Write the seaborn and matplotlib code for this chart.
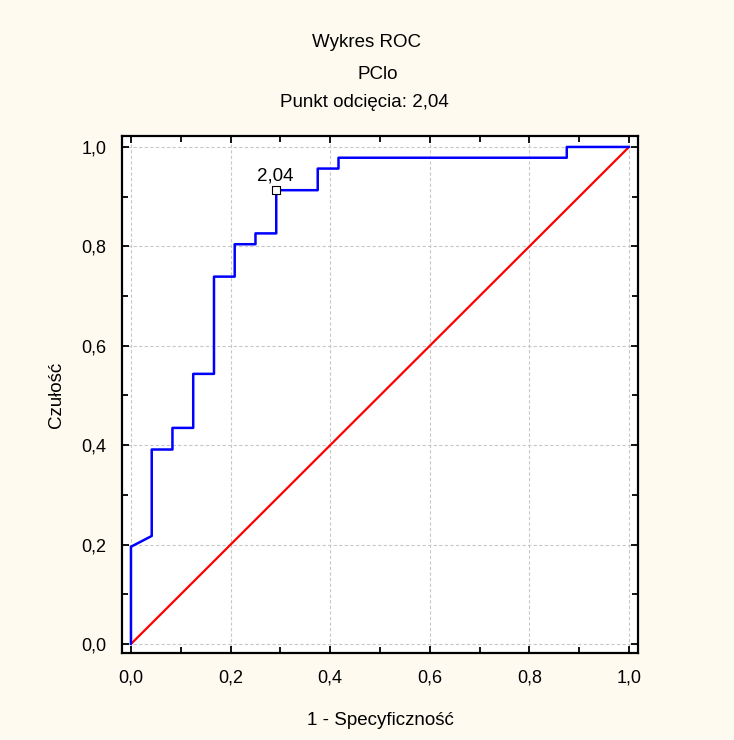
import numpy as np
import pandas as pd
import matplotlib
matplotlib.use("Agg")
import matplotlib.pyplot as plt
import seaborn as sns
from matplotlib.ticker import MultipleLocator, FuncFormatter

# ROC curve points (1 - specificity, sensitivity)
fpr = [0.0, 0.0, 0.0417, 0.0417, 0.0833, 0.0833, 0.125, 0.125, 0.1667, 0.1667,
       0.2083, 0.2083, 0.25, 0.25, 0.2917, 0.2917, 0.375, 0.375, 0.4167, 0.4167,
       0.875, 0.875, 1.0]
tpr = [0.0, 0.1957, 0.2174, 0.3913, 0.3913, 0.4348, 0.4348, 0.5435, 0.5435, 0.7391,
       0.7391, 0.8043, 0.8043, 0.8261, 0.8261, 0.9130, 0.9130, 0.9565, 0.9565, 0.9783,
       0.9783, 1.0, 1.0]
diag_x = [0.0, 1.0]
diag_y = [0.0, 1.0]
cutoff_x = [0.2917]
cutoff_y = [0.9130]
cutoff_label = "2,04"

title_lines = ["Wykres ROC", "PClo", "Punkt odcięcia: 2,04"]
x_label = "1 - Specyficzność"
y_label = "Czułość"

BG = "#fefaf0"
FONT = ["Liberation Sans", "DejaVu Sans"]
FS = 13.5

sns.set_theme(style="white")
plt.rcParams["font.family"] = FONT
plt.rcParams["text.color"] = "black"
plt.rcParams["axes.labelcolor"] = "black"
plt.rcParams["xtick.color"] = "black"
plt.rcParams["ytick.color"] = "black"

fig = plt.figure(figsize=(7.34, 7.40), dpi=100, facecolor=BG)
ax = fig.add_axes([0.1662, 0.1176, 0.703, 0.6986])
ax.set_facecolor("white")

roc = pd.DataFrame({"x": fpr, "y": tpr})
sns.lineplot(data=roc, x="x", y="y", sort=False, estimator=None,
             color="#0000ff", linewidth=1.8, ax=ax, zorder=3)
sns.lineplot(x=diag_x, y=diag_y, sort=False, estimator=None,
             color="#ff0000", linewidth=1.6, ax=ax, zorder=2)
sns.scatterplot(x=cutoff_x, y=cutoff_y, marker="s", s=28, facecolor="white",
                edgecolor="black", linewidth=0.8, ax=ax, zorder=4)
ax.annotate(cutoff_label, (cutoff_x[0], cutoff_y[0]), xytext=(-1, 7),
            textcoords="offset points", ha="center", va="baseline",
            fontsize=FS, color="black")

ax.set_xlim(-0.018, 1.018)
ax.set_ylim(-0.018, 1.022)

fmt = FuncFormatter(lambda v, _: f"{v:.1f}".replace(".", ","))
for axis in (ax.xaxis, ax.yaxis):
    axis.set_major_locator(MultipleLocator(0.2))
    axis.set_minor_locator(MultipleLocator(0.1))
    axis.set_major_formatter(fmt)

ax.tick_params(which="both", direction="in", top=True, right=True,
               bottom=True, left=True, color="black", width=1.3)
ax.tick_params(which="major", length=5, labelsize=FS - 0.5)
ax.tick_params(axis="x", which="major", pad=12)
ax.tick_params(axis="y", which="major", pad=11)
ax.tick_params(which="minor", length=4)

ax.grid(True, which="major", linestyle=(0, (3, 2)), color="#c8c8c8", linewidth=0.8)
for sp in ax.spines.values():
    sp.set_color("black")
    sp.set_linewidth(1.6)

ax.set_xlabel(x_label, fontsize=FS, labelpad=18)
ax.set_ylabel(y_label, fontsize=FS, labelpad=12)

fig.text(0.500, 0.943, title_lines[0], ha="center", va="center", fontsize=FS)
fig.text(0.515, 0.899, title_lines[1], ha="center", va="center", fontsize=FS)
fig.text(0.496, 0.862, title_lines[2], ha="center", va="center", fontsize=FS)

fig.savefig("out.png", dpi=100, facecolor=BG)
